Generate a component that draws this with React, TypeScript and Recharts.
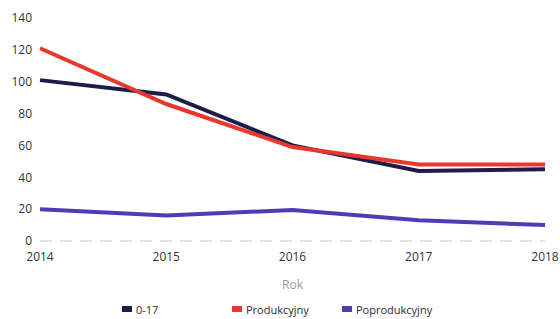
import React from 'react';
import { LineChart, Line, XAxis, YAxis, Legend } from 'recharts';

const years = ['2014', '2015', '2016', '2017', '2018'];
const age017 = [101, 92, 60, 44, 45];
const produkcyjny = [121, 86, 59, 48, 48];
const poprodukcyjny = [20, 16, 19.5, 13, 10];
const yTicks = [0, 20, 40, 60, 80, 100, 120, 140];
const seriesNames = ['0-17', 'Produkcyjny', 'Poprodukcyjny'];
const seriesColors = ['#1b1e4b', '#e8382b', '#4a3db5'];

const data = years.map((y, i) => ({
  rok: y,
  a: age017[i],
  p: produkcyjny[i],
  pp: poprodukcyjny[i],
}));

const FONT = '"Open Sans", "Noto Sans", sans-serif';

const LegendContent = () => (
  <div style={{ display: 'flex', paddingLeft: 122, height: 16, fontFamily: FONT, fontSize: 11, color: '#2a2a3a' }}>
    {seriesNames.map((n, i) => (
      <div key={n} style={{ width: 110, display: 'flex', alignItems: 'center' }}>
        <span style={{ display: 'inline-block', width: 10, height: 6, background: seriesColors[i], marginRight: 4 }} />
        <span>{n}</span>
      </div>
    ))}
  </div>
);

export default function App() {
  return (
    <div style={{ position: 'absolute', left: 0, top: 0, background: '#fff' }}>
      <LineChart width={560} height={319} data={data} margin={{ top: 18, right: 15, bottom: 0, left: 0 }}>
        <XAxis
          dataKey="rok"
          height={62}
          tickLine={false}
          tickMargin={5}
          axisLine={{ stroke: '#c8c8c8', strokeDasharray: '12 8' }}
          tick={{ fill: '#333', fontSize: 12, fontFamily: FONT }}
          interval={0}
          label={{ value: 'Rok', position: 'insideBottom', offset: 14, fill: '#999', fontSize: 12, fontFamily: FONT }}
        />
        <YAxis
          width={40}
          domain={[0, 140]}
          ticks={yTicks}
          tickLine={false}
          axisLine={false}
          tick={{ fill: '#333', fontSize: 12, fontFamily: FONT }}
        />
        <Legend verticalAlign="bottom" align="left" height={16} content={<LegendContent />} wrapperStyle={{ left: 0, bottom: 2, width: 560 }} />
        <Line dataKey="a" name="0-17" stroke={seriesColors[0]} strokeWidth={4} dot={false} isAnimationActive={false} />
        <Line dataKey="p" name="Produkcyjny" stroke={seriesColors[1]} strokeWidth={4} dot={false} isAnimationActive={false} />
        <Line dataKey="pp" name="Poprodukcyjny" stroke={seriesColors[2]} strokeWidth={4} dot={false} isAnimationActive={false} />
      </LineChart>
    </div>
  );
}
